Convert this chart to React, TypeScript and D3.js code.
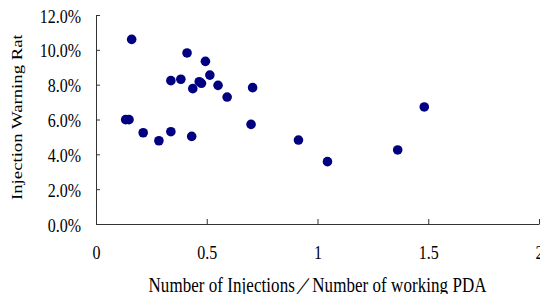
import { useEffect, useRef } from 'react';
import * as d3 from 'd3';

// injections per working PDA
const ratio = [
  0.161, 0.411, 0.494, 0.338, 0.383, 0.514, 0.466, 0.476, 0.437, 0.551, 0.592, 0.707,
  0.134, 0.149, 0.213, 0.284, 0.338, 0.432, 0.700, 0.914, 1.045, 1.362, 1.482,
];
// injection warning rate (%)
const warningRate = [
  10.6, 9.82, 9.34, 8.23, 8.31, 8.55, 8.17, 8.08, 7.77, 7.96, 7.29, 7.83,
  5.99, 5.99, 5.24, 4.78, 5.3, 5.03, 5.72, 4.82, 3.58, 4.25, 6.72,
];
const xTicks = [0, 0.5, 1, 1.5, 2];
const yTicks = [0, 2, 4, 6, 8, 10, 12];

export default function App() {
  const svgRef = useRef<SVGSVGElement>(null);

  useEffect(() => {
    if (!svgRef.current) return;
    const width = 540;
    const height = 294;
    const margin = { top: 15, right: 1, bottom: 70, left: 96 };
    const font = "'Liberation Serif', 'Times New Roman', 'DejaVu Serif', serif";
    const stretch = 1.18; // text in the original looks taller than it is wide

    const svg = d3.select(svgRef.current);
    svg.selectAll('*').remove();
    svg.attr('width', width).attr('height', height)
      .style('font-family', font);

    const x = d3.scaleLinear().domain([0, 2]).range([margin.left, width - margin.right]);
    const y = d3.scaleLinear().domain([0, 12]).range([height - margin.bottom, margin.top]);

    const xAxis = svg.append('g')
      .attr('transform', `translate(0, ${y(0)})`)
      .call(d3.axisBottom(x).tickValues(xTicks).tickSizeInner(-5).tickSizeOuter(0).tickFormat(d => d3.format('~g')(d as number)));
    xAxis.select('.domain').attr('stroke', '#333');
    xAxis.selectAll('.tick line').attr('stroke', '#333');
    xAxis.selectAll('.tick text')
      .attr('y', 0)
      .attr('dy', null)
      .attr('transform', `translate(0, 35) scale(1, ${stretch})`)
      .style('font-family', font)
      .style('font-size', '16px')
      .attr('fill', '#000');

    const yAxis = svg.append('g')
      .attr('transform', `translate(${x(0)}, 0)`)
      .call(d3.axisLeft(y).tickValues(yTicks).tickSizeInner(-4).tickSizeOuter(0).tickFormat(d => `${(d as number).toFixed(1)}%`));
    yAxis.select('.domain').attr('stroke', '#333');
    yAxis.selectAll('.tick line').attr('stroke', '#333');
    yAxis.selectAll('.tick text')
      .attr('x', 0)
      .attr('dy', null)
      .attr('transform', `translate(-15, 7) scale(1, ${stretch})`)
      .style('font-family', font)
      .style('font-size', '16px')
      .attr('fill', '#000');

    // points
    svg.append('g')
      .selectAll('circle')
      .data(ratio.map((r, i) => ({ r, v: warningRate[i] })))
      .enter()
      .append('circle')
      .attr('cx', d => x(d.r))
      .attr('cy', d => y(d.v))
      .attr('r', 4.8)
      .attr('fill', '#000080');

    // axis titles
    svg.append('text')
      .attr('transform', `translate(${x(1)}, 292) scale(1, ${stretch})`)
      .attr('text-anchor', 'middle')
      .attr('textLength', 338)
      .attr('lengthAdjust', 'spacing')
      .style('font-family', font)
      .style('font-size', '17px')
      .attr('fill', '#000')
      .text('Number of Injections／Number of working PDA');

    svg.append('clipPath')
      .attr('id', 'ytitle-clip')
      .append('rect')
      .attr('x', 0).attr('y', 35).attr('width', 40).attr('height', 200);

    svg.append('g')
      .attr('clip-path', 'url(#ytitle-clip)')
      .append('text')
      .attr('transform', 'translate(22, 200) rotate(-90) scale(1.25, 1)')
      .style('font-family', font)
      .style('font-size', '15px')
      .attr('fill', '#000')
      .text('Injection Warning Rate');
  }, []);

  return (
    <div style={{ position: 'absolute', left: 0, top: 0, background: '#fff' }}>
      <svg ref={svgRef} style={{ display: 'block' }}></svg>
    </div>
  );
}
